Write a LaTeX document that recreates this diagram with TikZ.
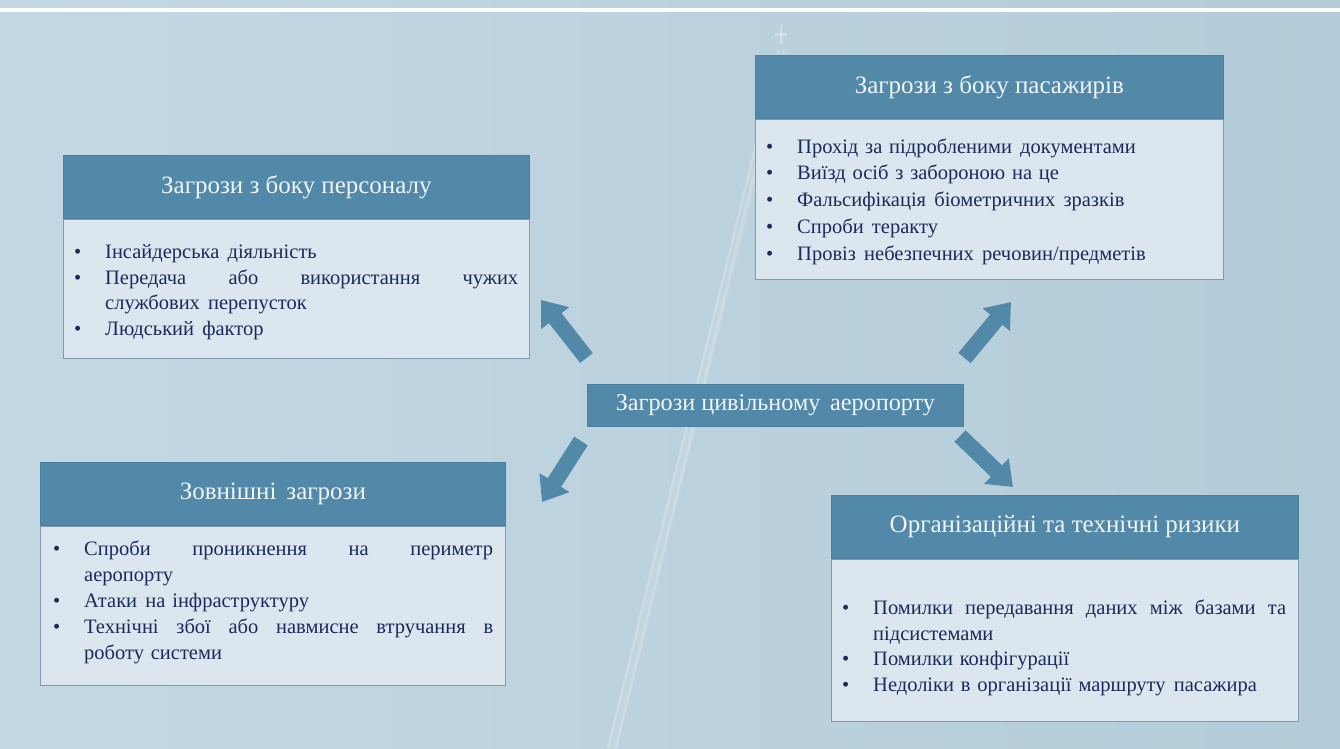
\documentclass[tikz,border=0pt]{standalone}
\usepackage{fontspec}
\setmainfont{Liberation Serif}
\usetikzlibrary{arrows.meta}

\definecolor{skyL}{HTML}{C3D8E3}
\definecolor{skyR}{HTML}{B4CCD9}
\definecolor{headblue}{HTML}{5289A8}
\definecolor{headedge}{HTML}{4A7F9D}
\definecolor{bodyfill}{HTML}{DCE6EE}
\definecolor{bodyedge}{HTML}{7E9BB2}
\definecolor{navy}{HTML}{1B2A5A}
\definecolor{headtext}{HTML}{F0F4F7}

% list lines: bullet item, bullet item stretched to full width, continuation line
\newcommand\bitem[1]{\par\noindent\strut\makebox[32pt][l]{\hspace{1pt}\textbullet}#1}
\newcommand\bjust[1]{\par\noindent\strut\makebox[32pt][l]{\hspace{1pt}\textbullet}\hbox to \dimexpr\hsize-32pt\relax{#1}}
\newcommand\bcont[1]{\par\noindent\strut\hspace*{32pt}#1}
% slightly widened word gap
\newcommand\wgap{\hspace{0.4em}}

\tikzset{
  headbox/.style={draw=headedge, line width=0.8pt, fill=headblue, text=headtext,
    font=\fontsize{25}{28}\selectfont, inner sep=0pt, anchor=north west},
  bodybox/.style={draw=bodyedge, line width=1pt, fill=bodyfill, inner sep=0pt, anchor=north west},
  listtext/.style={text=navy, inner sep=0pt, anchor=north west, align=left,
    font=\fontsize{20.5}{25.5}\selectfont},
  blockarrow/.style={draw=headblue, line width=16pt,
    -{Triangle[length=23pt,width=34pt]}},
}

\begin{document}
\begin{tikzpicture}[x=1pt,y=-1pt]
\useasboundingbox (0,0) rectangle (1340,748);

% sky background
\shade[left color=skyL, right color=skyR] (0,0) rectangle (1340,748);
\fill[white] (0,8) rectangle (1340,11.5);

% contrail and aircraft
\draw[white, opacity=0.10, line width=10pt] (781,60) -- (612,748);
\draw[white, opacity=0.18, line width=2.5pt] (779,50) -- (608,748);
\draw[white, opacity=0.18, line width=2.5pt] (784,51) -- (616,748);
\fill[white, opacity=0.3] (780.5,24) -- (782,24) -- (782.5,44) -- (779.5,44) -- cycle;
\fill[white, opacity=0.3] (775,33) -- (787,33) -- (787,35.5) -- (775,35.5) -- cycle;

% staff threats
\node[headbox, minimum width=466pt, minimum height=63pt] (h1) at (63,155) {Загрози з боку персоналу};
\node[bodybox, minimum width=466pt, minimum height=139pt] (b1) at (h1.south west) {};
\node[listtext, text width=445pt] (t1) at (73,233) {%
  \bitem{Інсайдерська\wgap діяльність}%
  \bjust{Передача\hfil або\hfil використання\hfil чужих}%
  \bcont{службових\wgap перепусток}%
  \bitem{Людський\wgap фактор}};

% passenger threats
\node[headbox, minimum width=468pt, minimum height=63pt] (h2) at (755,55) {Загрози з боку пасажирів};
\node[bodybox, minimum width=468pt, minimum height=160pt] (b2) at (h2.south west) {};
\node[listtext, text width=447pt, font=\fontsize{20.5}{26.8}\selectfont] (t2) at (765,126) {%
  \bitem{Прохід за підробленими\wgap документами}%
  \bitem{Виїзд осіб з забороною на це}%
  \bitem{Фальсифікація\wgap біометричних\wgap зразків}%
  \bitem{Спроби\wgap теракту}%
  \bitem{Провіз\wgap небезпечних\wgap речовин/предметів}};

% external threats
\node[headbox, minimum width=465pt, minimum height=63pt] (h3) at (40,462) {Зовнішні\wgap загрози};
\node[bodybox, minimum width=465pt, minimum height=159pt] (b3) at (h3.south west) {};
\node[listtext, text width=441pt, font=\fontsize{20.5}{26}\selectfont] (t3) at (52,529) {%
  \bjust{Спроби\hfil проникнення\hfil на\hfil периметр}%
  \bcont{аеропорту}%
  \bitem{Атаки\wgap на інфраструктуру}%
  \bjust{Технічні\hfil збої\hfil або\hfil навмисне\hfil втручання\hfil в}%
  \bcont{роботу системи}};

% organisational and technical risks
\node[headbox, minimum width=467pt, minimum height=63pt] (h4) at (831,495) {Організаційні та технічні ризики};
\node[bodybox, minimum width=467pt, minimum height=162pt] (b4) at (h4.south west) {};
\node[listtext, text width=445pt] (t4) at (841,589) {%
  \bjust{Помилки\hfil передавання\hfil даних\hfil між\hfil базами\hfil та}%
  \bcont{підсистемами}%
  \bitem{Помилки конфігурації}%
  \bitem{Недоліки в організації маршруту\wgap пасажира}};

% central topic
\node[headbox, minimum width=376pt, minimum height=42pt, font=\fontsize{24.2}{28}\selectfont] (c) at (587,384) {Загрози цивільному\wgap аеропорту};

% block arrows from the topic towards the four groups
\coordinate (a1s) at (586.5,358); \coordinate (a1e) at (541,300);
\coordinate (a2s) at (964.5,358); \coordinate (a2e) at (1011,302);
\coordinate (a3s) at (581,441);   \coordinate (a3e) at (542,502);
\coordinate (a4s) at (960,436);   \coordinate (a4e) at (1013,487);
\draw[blockarrow] (a1s) -- (a1e);
\draw[blockarrow] (a2s) -- (a2e);
\draw[blockarrow] (a3s) -- (a3e);
\draw[blockarrow] (a4s) -- (a4e);
\end{tikzpicture}
\end{document}
